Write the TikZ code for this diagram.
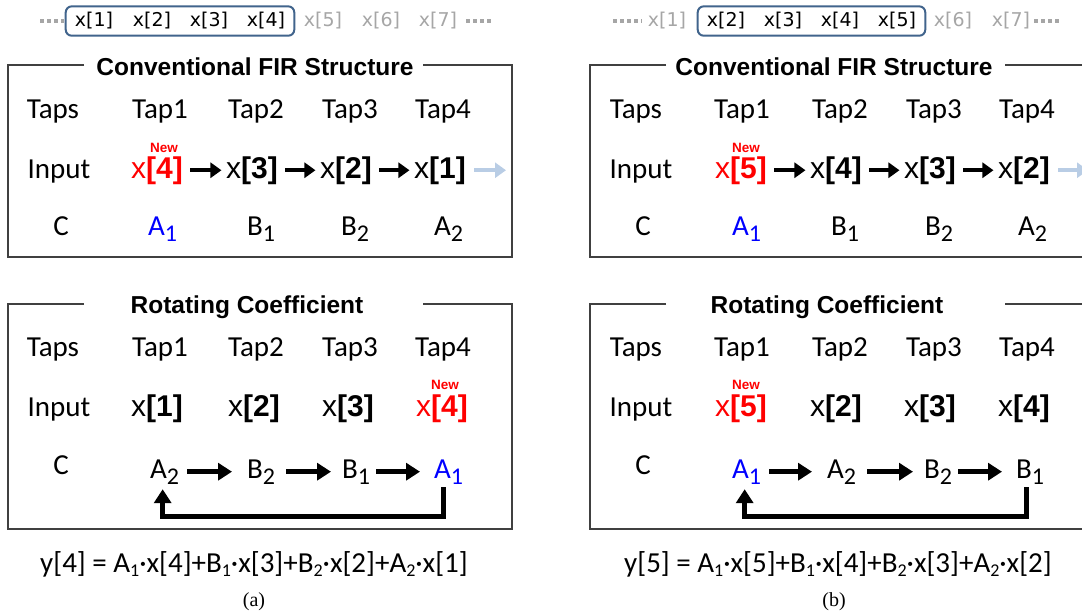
\documentclass[tikz,border=0pt]{standalone}
\usepackage{fontspec}
\setmainfont{Carlito}
\newfontfamily\arialf{Liberation Sans}
\newfontfamily\dejaf{DejaVu Sans}
\newfontfamily\timesf{Liberation Serif}
\usetikzlibrary{arrows.meta,fit}
\definecolor{framegray}{HTML}{404040}
\definecolor{boxblue}{HTML}{41648C}
\definecolor{stripgray}{HTML}{A6A6A6}
\definecolor{lightarrow}{HTML}{B9CDE5}
\definecolor{newred}{HTML}{FF0000}
\definecolor{coefblue}{HTML}{0000FF}
\newcommand\csub[1]{\raisebox{-6pt}{\fontsize{24}{24}\selectfont #1}}
\newcommand\esub[1]{\raisebox{-4pt}{\fontsize{18}{18}\selectfont #1}}
\newcommand\xv[1]{x\textbf{[#1]}}
\begin{document}
\begin{tikzpicture}[x=1pt,y=-1pt,
  lbl/.style={font=\fontsize{29}{34}\selectfont, inner sep=0pt, anchor=base},
  coef/.style={font=\fontsize{29}{34}\selectfont, inner sep=0pt, anchor=base west},
  xval/.style={font=\arialf\fontsize{30}{34}\selectfont, inner sep=0pt, anchor=base},
  newlbl/.style={font=\arialf\bfseries\fontsize{13.5}{15}\selectfont, text=newred, inner sep=0pt, anchor=base},
  ttl/.style={font=\arialf\bfseries\fontsize{24.5}{28}\selectfont, inner sep=0pt, anchor=base},
  frameline/.style={draw=framegray, line width=2pt},
  sarrow/.style={line width=4.5pt, -{Triangle[length=11pt,width=15pt]}},
  rarrow/.style={line width=5pt, -{Triangle[length=14pt,width=17pt]}},
  strip/.style={font=\dejaf\fontsize{19}{22}\selectfont, inner sep=0pt, anchor=base},
  gstrip/.style={strip, text=stripgray},
  sbox/.style={draw=boxblue, line width=2pt, rounded corners=6pt, inner xsep=9pt, inner ysep=6pt},
  dots/.style={draw=stripgray, line width=3.5pt, dash pattern=on 4pt off 3pt},
  eq/.style={font=\fontsize{29}{32}\selectfont, inner sep=0pt, anchor=base},
  capt/.style={font=\timesf\fontsize{20}{22}\selectfont, inner sep=0pt, anchor=base}]
\useasboundingbox (0,0) rectangle (1082,613);
\clip (0,0) rectangle (1082,613);

% ---------- top strip, left ----------
\node[strip] (ls1) at (94,27) {x[1]};
\node[strip] (ls2) at (152,27) {x[2]};
\node[strip] (ls3) at (209,27) {x[3]};
\node[strip] (ls4) at (266,27) {x[4]};
\node[gstrip] (ls5) at (323,27) {x[5]};
\node[gstrip] (ls6) at (381,27) {x[6]};
\node[gstrip] (ls7) at (438,27) {x[7]};
\node[sbox, fit=(ls1)(ls4)] (lbox) {};
\draw[dots] (40,21) -- (64,21);
\draw[dots] (466,21) -- (491,21);

% ---------- top strip, right ----------
\node[gstrip] (rs1) at (667,27) {x[1]};
\node[strip] (rs2) at (726,27) {x[2]};
\node[strip] (rs3) at (783,27) {x[3]};
\node[strip] (rs4) at (840,27) {x[4]};
\node[strip] (rs5) at (897,27) {x[5]};
\node[gstrip] (rs6) at (953,27) {x[6]};
\node[gstrip] (rs7) at (1011,27) {x[7]};
\node[sbox, fit=(rs2)(rs5)] (rbox) {};
\draw[dots] (613,21) -- (642,21);
\draw[dots] (1034,21) -- (1060,21);

% ================= LEFT (a) =================
\begin{scope}[name prefix=L-]
\draw[frameline] (84,65) -- (8,65) -- (8,257) -- (512,257) -- (512,65) -- (423,65);
\node[ttl] (t1) at (255,75) {Conventional FIR Structure};
\node[lbl] (taps) at (53,118) {Taps};
\node[lbl] (tap1) at (160,118) {Tap1};
\node[lbl] (tap2) at (256,118) {Tap2};
\node[lbl] (tap3) at (350,118) {Tap3};
\node[lbl] (tap4) at (443,118) {Tap4};
\node[lbl] (inp) at (59,178) {Input};
\node[newlbl] (new) at (164,152) {New};
\node[xval, text=newred] (x1) at (157,178) {\xv{4}};
\node[xval] (x2) at (252,178) {\xv{3}};
\node[xval] (x3) at (346,178) {\xv{2}};
\node[xval] (x4) at (440,178) {\xv{1}};
\coordinate (out) at (506,170);
\draw[sarrow, shorten <=7pt, shorten >=4.5pt] (x1.east) -- (x2.west);
\draw[sarrow, shorten <=7pt, shorten >=4.5pt] (x2.east) -- (x3.west);
\draw[sarrow, shorten <=7pt, shorten >=4.5pt] (x3.east) -- (x4.west);
\draw[sarrow, draw=lightarrow, shorten <=8pt] (x4.east) -- (x4.east -| out);
\node[lbl] (cl) at (61,235) {C};
\node[coef, text=coefblue] (c1) at (148,235) {A\csub{1}};
\node[coef] (c2) at (247,235) {B\csub{1}};
\node[coef] (c3) at (341,235) {B\csub{2}};
\node[coef] (c4) at (434,235) {A\csub{2}};
\draw[frameline] (84,304) -- (8,304) -- (8,529) -- (512,529) -- (512,304) -- (423,304);
\node[ttl] (t2) at (247,313) {Rotating Coefficient};
\node[lbl] (btaps) at (53,356) {Taps};
\node[lbl] (btap1) at (160,356) {Tap1};
\node[lbl] (btap2) at (256,356) {Tap2};
\node[lbl] (btap3) at (350,356) {Tap3};
\node[lbl] (btap4) at (443,356) {Tap4};
\node[lbl] (binp) at (59,416) {Input};
\node[newlbl] (bnew) at (445,389) {New};
\node[xval] (bx1) at (157,416) {\xv{1}};
\node[xval] (bx2) at (254,416) {\xv{2}};
\node[xval] (bx3) at (348,416) {\xv{3}};
\node[xval, text=newred] (bx4) at (442,416) {\xv{4}};
\node[lbl] (bcl) at (61,474) {C};
\node[coef] (bc1) at (150,478) {A\csub{2}};
\node[coef] (bc2) at (247,478) {B\csub{2}};
\node[coef] (bc3) at (342,478) {B\csub{1}};
\node[coef, text=coefblue] (bc4) at (434,478) {A\csub{1}};
\draw[rarrow, shorten <=8pt, shorten >=15pt] (bc1.east) -- (bc2.west);
\draw[rarrow, shorten <=11pt, shorten >=11pt] (bc2.east) -- (bc3.west);
\draw[rarrow, shorten <=6pt, shorten >=14pt] (bc3.east) -- (bc4.west);
\draw[rarrow, shorten <=3pt, shorten >=5pt] ([xshift=-5pt]bc4.south) -- ++(0,32) -| ([xshift=-2pt]bc1.south);
\node[eq] (eq) at (254,572) {y[4] = A\esub{1}·x[4]+B\esub{1}·x[3]+B\esub{2}·x[2]+A\esub{2}·x[1]};
\node[capt] (cp) at (254,606) {(a)};
\end{scope}

% ================= RIGHT (b) =================
\begin{scope}[shift={(582,0)}, name prefix=R-]
\draw[frameline] (84,65) -- (8,65) -- (8,257) -- (512,257) -- (512,65) -- (423,65);
\node[ttl] (t1) at (252,75) {Conventional FIR Structure};
\node[lbl] (taps) at (54,118) {Taps};
\node[lbl] (tap1) at (160,118) {Tap1};
\node[lbl] (tap2) at (258,118) {Tap2};
\node[lbl] (tap3) at (352,118) {Tap3};
\node[lbl] (tap4) at (445,118) {Tap4};
\node[lbl] (inp) at (59,178) {Input};
\node[newlbl] (new) at (164,152) {New};
\node[xval, text=newred] (x1) at (159,178) {\xv{5}};
\node[xval] (x2) at (254,178) {\xv{4}};
\node[xval] (x3) at (348,178) {\xv{3}};
\node[xval] (x4) at (442,178) {\xv{2}};
\coordinate (out) at (506,170);
\draw[sarrow, shorten <=7pt, shorten >=4.5pt] (x1.east) -- (x2.west);
\draw[sarrow, shorten <=7pt, shorten >=4.5pt] (x2.east) -- (x3.west);
\draw[sarrow, shorten <=7pt, shorten >=4.5pt] (x3.east) -- (x4.west);
\draw[sarrow, draw=lightarrow, shorten <=8pt] (x4.east) -- (x4.east -| out);
\node[lbl] (cl) at (61,235) {C};
\node[coef, text=coefblue] (c1) at (150,235) {A\csub{1}};
\node[coef] (c2) at (249,235) {B\csub{1}};
\node[coef] (c3) at (343,235) {B\csub{2}};
\node[coef] (c4) at (436,235) {A\csub{2}};
\draw[frameline] (84,304) -- (8,304) -- (8,529) -- (512,529) -- (512,304) -- (423,304);
\node[ttl] (t2) at (245,313) {Rotating Coefficient};
\node[lbl] (btaps) at (54,356) {Taps};
\node[lbl] (btap1) at (160,356) {Tap1};
\node[lbl] (btap2) at (258,356) {Tap2};
\node[lbl] (btap3) at (352,356) {Tap3};
\node[lbl] (btap4) at (445,356) {Tap4};
\node[lbl] (binp) at (59,416) {Input};
\node[newlbl] (bnew) at (164,389) {New};
\node[xval, text=newred] (bx1) at (159,416) {\xv{5}};
\node[xval] (bx2) at (254,416) {\xv{2}};
\node[xval] (bx3) at (348,416) {\xv{3}};
\node[xval] (bx4) at (442,416) {\xv{4}};
\node[lbl] (bcl) at (61,474) {C};
\node[coef, text=coefblue] (bc1) at (150,478) {A\csub{1}};
\node[coef] (bc2) at (245,478) {A\csub{2}};
\node[coef] (bc3) at (342,478) {B\csub{2}};
\node[coef] (bc4) at (434,478) {B\csub{1}};
\draw[rarrow, shorten <=8pt, shorten >=15pt] (bc1.east) -- (bc2.west);
\draw[rarrow, shorten <=11pt, shorten >=11pt] (bc2.east) -- (bc3.west);
\draw[rarrow, shorten <=6pt, shorten >=14pt] (bc3.east) -- (bc4.west);
\draw[rarrow, shorten <=3pt, shorten >=5pt] ([xshift=-4pt]bc4.south) -- ++(0,32) -| ([xshift=-2pt]bc1.south);
\node[eq] (eq) at (256,572) {y[5] = A\esub{1}·x[5]+B\esub{1}·x[4]+B\esub{2}·x[3]+A\esub{2}·x[2]};
\node[capt] (cp) at (252,606) {(b)};
\end{scope}
\end{tikzpicture}
\end{document}
